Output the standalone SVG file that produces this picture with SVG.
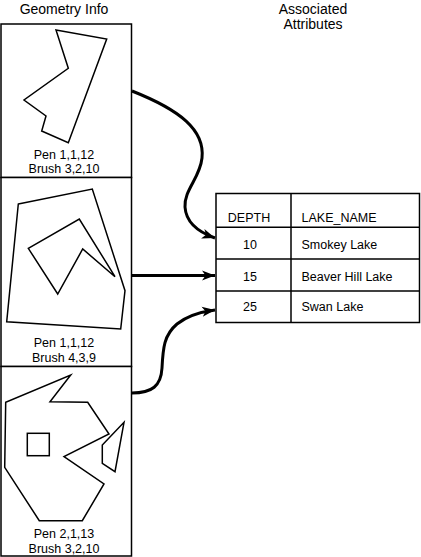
<svg xmlns="http://www.w3.org/2000/svg" width="421" height="557" viewBox="0 0 421 557">
<style>
.t{font-family:"Liberation Sans",Arial,sans-serif;fill:#000}
.h{font-size:14px}
.s{font-size:12.5px}
.box{fill:#fff;stroke:#000;stroke-width:1.5}
.poly{fill:none;stroke:#000;stroke-width:1.5;stroke-linejoin:miter}
.con{fill:none;stroke:#000;stroke-width:3}
</style>
<defs>
<marker id="arr" markerUnits="userSpaceOnUse" markerWidth="14" markerHeight="12" refX="13" refY="5" orient="auto" viewBox="0 0 14 10">
<path d="M0,0 L13,5 L0,10 L3.5,5 z" fill="#000"/>
</marker>
</defs>
<rect width="421" height="557" fill="#fff"/>
<text class="t h" x="64" y="14" text-anchor="middle">Geometry Info</text>
<text class="t h" x="313" y="14" text-anchor="middle">Associated</text>
<text class="t h" x="313" y="29" text-anchor="middle">Attributes</text>

<g id="geom1">
<rect class="box" x="1" y="24" width="130.5" height="153.5"/>
<polygon class="poly" points="56,30 106.7,39 68.3,142.7 41.7,131 46,116 24,100 68.3,68.3"/>
<text class="t s" x="64" y="159" text-anchor="middle">Pen 1,1,12</text>
<text class="t s" x="64" y="173" text-anchor="middle">Brush 3,2,10</text>
</g>

<g id="geom2">
<rect class="box" x="1" y="177.5" width="130.5" height="189"/>
<polygon class="poly" points="18.3,204 92.3,189 125,290.7 120.7,329 6.7,321.7"/>
<polygon class="poly" points="28.3,248.3 79.3,219 115,276.7 82.7,249 57.7,294"/>
<text class="t s" x="64" y="347" text-anchor="middle">Pen 1,1,12</text>
<text class="t s" x="64" y="362" text-anchor="middle">Brush 4,3,9</text>
</g>

<g id="geom3">
<rect class="box" x="1" y="366.5" width="130.5" height="189.5"/>
<polygon class="poly" points="70.7,375 50,401.7 87.7,402.3 109,434 64,456.7 104,484 82.3,520.7 39.3,520.7 4.7,467.3 5.7,402.3"/>
<rect class="poly" x="27.3" y="433.3" width="22" height="22.4"/>
<polygon class="poly" points="124,422.3 115,471.7 102.3,463.3 102.3,445"/>
<text class="t s" x="64" y="538" text-anchor="middle">Pen 2,1,13</text>
<text class="t s" x="64" y="553" text-anchor="middle">Brush 3,2,10</text>
</g>

<g id="table">
<rect class="box" x="216" y="193.5" width="203.5" height="129"/>
<line class="poly" x1="291" y1="193.5" x2="291" y2="322.5"/>
<line class="poly" x1="216" y1="227.3" x2="419.5" y2="227.3"/>
<line class="poly" x1="216" y1="259" x2="419.5" y2="259"/>
<line class="poly" x1="216" y1="291" x2="419.5" y2="291"/>
<text class="t s" x="249" y="221.5" text-anchor="middle">DEPTH</text>
<text class="t s" x="301.5" y="221.5">LAKE_NAME</text>
<text class="t s" x="250" y="249" text-anchor="middle">10</text>
<text class="t s" x="301.5" y="249">Smokey Lake</text>
<text class="t s" x="250" y="281" text-anchor="middle">15</text>
<text class="t s" x="301.5" y="281">Beaver Hill Lake</text>
<text class="t s" x="250" y="311" text-anchor="middle">25</text>
<text class="t s" x="301.5" y="311">Swan Lake</text>
</g>

<g id="connectors">
<path class="con" marker-end="url(#arr)" d="M132,91 C180,110 205,130 202,158 C200,178 184,190 185,207 C186,222 198,232 215,238"/>
<path class="con" marker-end="url(#arr)" d="M132,275.5 L215,275.5"/>
<path class="con" marker-end="url(#arr)" d="M132,393 C152,393 161,386 162,368 C163,348 164,335 177,324 C187,316 200,312 215,310"/>
</g>
</svg>
